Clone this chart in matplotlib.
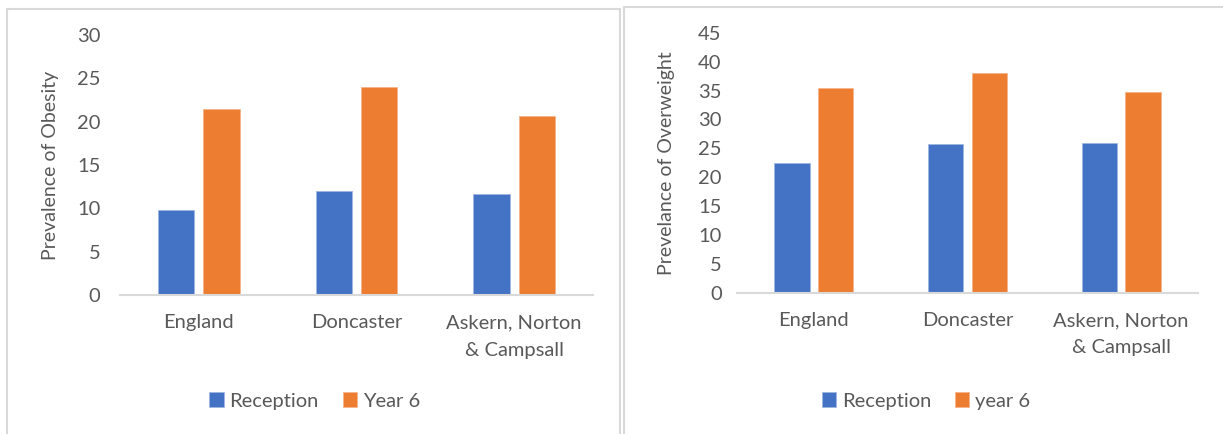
import matplotlib
matplotlib.use('Agg')
import matplotlib.pyplot as plt
from matplotlib.patches import Rectangle
import numpy as np

# data
categories = ['England', 'Doncaster', 'Askern, Norton\n& Campsall']
obesity_reception = [9.85, 12.0, 11.6]
obesity_year6 = [21.5, 24.0, 20.7]
overweight_reception = [22.4, 25.7, 26.0]
overweight_year6 = [35.4, 38.0, 34.7]

blue = '#4472C4'
orange = '#ED7D31'
grey_text = '#595959'
grey_line = '#D9D9D9'

plt.rcParams['font.family'] = ['Lato', 'DejaVu Sans']

fig = plt.figure(figsize=(12.23, 4.34), dpi=100)
W, H = 1223, 434


def fx(px):
    return px / W


def fy(py):
    return 1 - py / H


def panel(ax, rec, yr6, ymax, ylabel, labels, label_x, pad):
    x = np.arange(len(categories))
    width = 0.23
    off = 0.143
    b1 = ax.bar(x - off, rec, width, color=blue, edgecolor='#9FB6E0', linewidth=0.6, label=labels[0])
    b2 = ax.bar(x + off, yr6, width, color=orange, edgecolor='#F5B48A', linewidth=0.6, label=labels[1])
    ax.set_xlim(-0.5, 2.5)
    ax.set_ylim(0, ymax)
    ax.set_yticks(np.arange(0, ymax + 1, 5))
    ax.set_xticks(x)
    ax.set_xticklabels(categories, linespacing=1.75)
    for s in ['top', 'right', 'left']:
        ax.spines[s].set_visible(False)
    ax.spines['bottom'].set_color(grey_line)
    ax.spines['bottom'].set_linewidth(1.5)
    ax.tick_params(axis='y', length=0, pad=pad, labelsize=14.5, labelcolor=grey_text)
    ax.tick_params(axis='x', length=0, pad=14, labelsize=14.5, labelcolor=grey_text)
    ax.set_ylabel(ylabel, fontsize=14, color=grey_text)
    ax.yaxis.set_label_coords(label_x, 0.5)
    return b1, b2


# left chart: obesity
ax1 = fig.add_axes([fx(120), fy(295), fx(593 - 120), (295 - 35) / H])
h1 = panel(ax1, obesity_reception, obesity_year6, 30, 'Prevalence of Obesity',
           ['Reception', 'Year 6'], -0.128, 14)

# right chart: overweight
ax2 = fig.add_axes([fx(737), fy(292.5), fx(1198 - 737), (292.5 - 33) / H])
h2 = panel(ax2, overweight_reception, overweight_year6, 45, 'Prevelance of Overweight',
           ['Reception', 'year 6'], -0.135, 11)

# legends
for handles, names, cx in [(h1, ['Reception', 'Year 6'], 315), (h2, ['Reception', 'year 6'], 926)]:
    fig.legend(handles, names, loc='center', bbox_to_anchor=(fx(cx), fy(401)),
               ncol=2, frameon=False, fontsize=14.5, labelcolor=grey_text,
               handlelength=0.7, handleheight=0.7, handletextpad=0.3,
               columnspacing=1.2)

# chart area borders
fig.patches.append(Rectangle((fx(7), fy(440)), fx(620 - 7), (440 - 9) / H,
                             transform=fig.transFigure, fill=False,
                             edgecolor=grey_line, linewidth=1.5))
fig.patches.append(Rectangle((fx(624), fy(440)), fx(1230 - 624), (440 - 7) / H,
                             transform=fig.transFigure, fill=False,
                             edgecolor=grey_line, linewidth=1.5))

plt.savefig('out.png', dpi=100)
